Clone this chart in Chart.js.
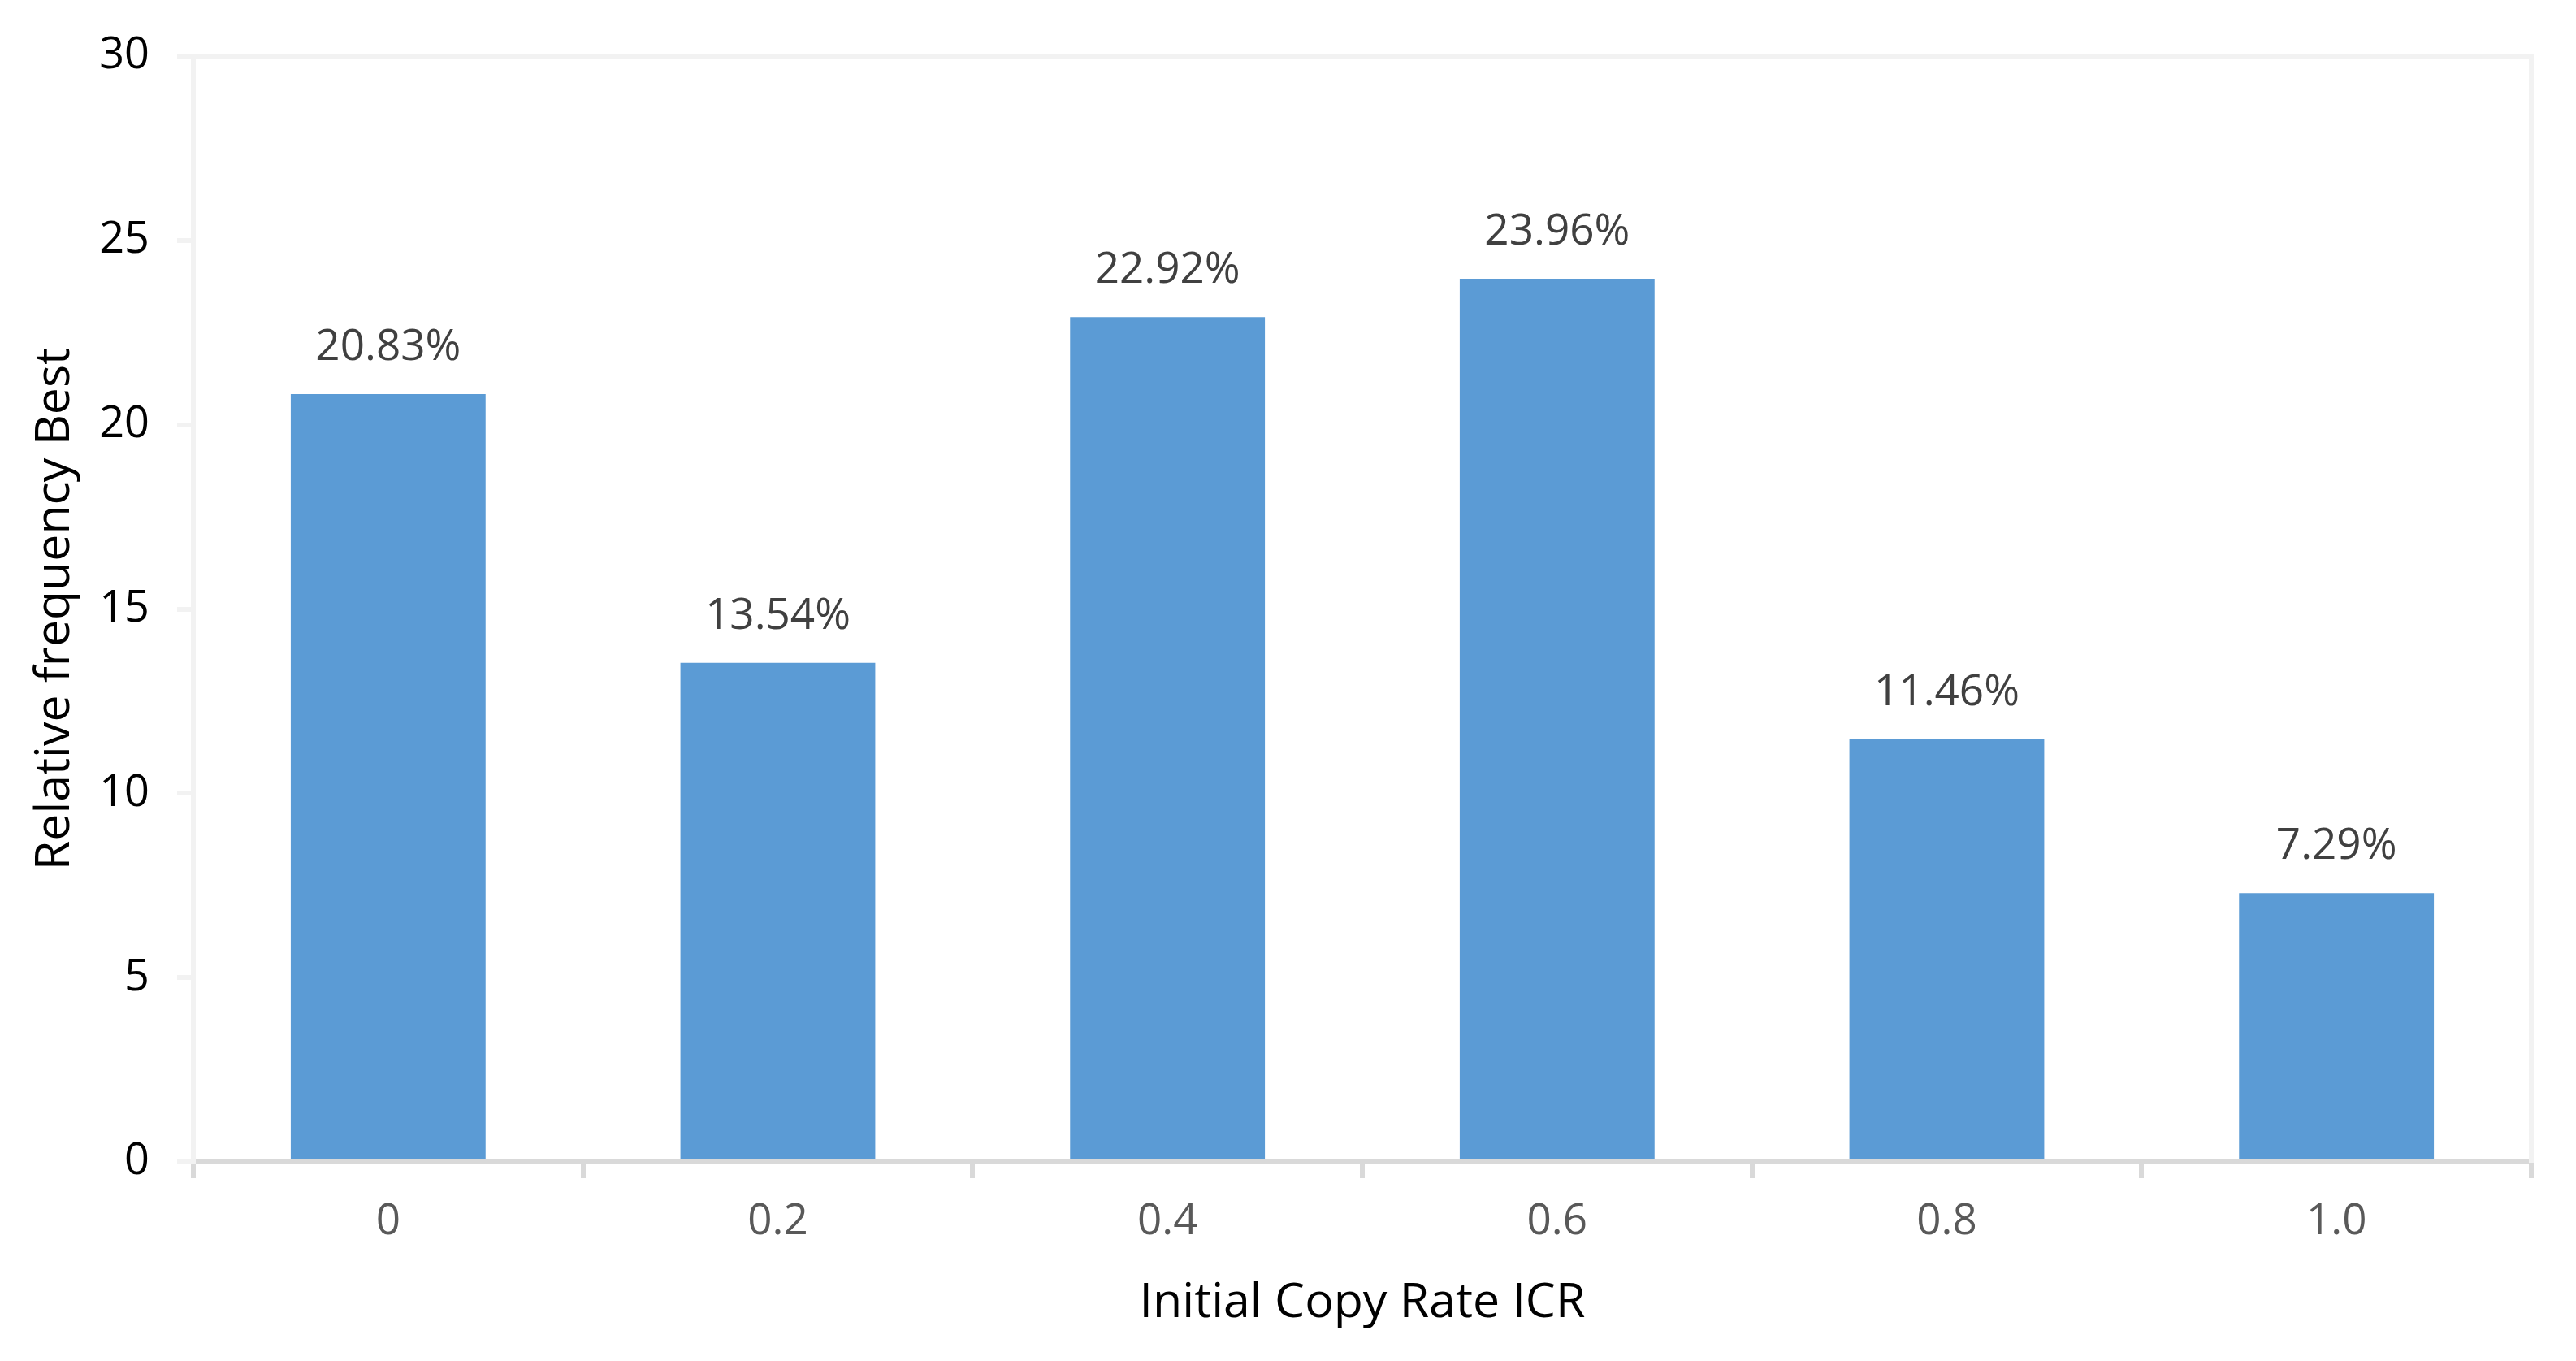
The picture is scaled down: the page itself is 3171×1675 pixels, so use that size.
<!DOCTYPE html>
<html>
<head>
<meta charset="utf-8">
<script src="https://cdn.jsdelivr.net/npm/chart.js@4/dist/chart.umd.min.js"></script>
<style>
  html, body { margin: 0; padding: 0; background: #ffffff; }
  canvas { display: block; }
</style>
</head>
<body>
<canvas id="c" width="3171" height="1675"></canvas>
<script>
// ---- data ----
const categories = ['0', '0.2', '0.4', '0.6', '0.8', '1.0'];
const values = [20.83, 13.54, 22.92, 23.96, 11.46, 7.29];
const valueLabels = ['20.83%', '13.54%', '22.92%', '23.96%', '11.46%', '7.29%'];
const yTicks = [0, 5, 10, 15, 20, 25, 30];
const xTitle = 'Initial Copy Rate ICR';
const yTitle = 'Relative frequency Best';

const FONT = "'Open Sans', 'Noto Sans', sans-serif";

const dataLabelPlugin = {
  id: 'dataLabels',
  afterDatasetsDraw(chart) {
    const ctx = chart.ctx;
    const meta = chart.getDatasetMeta(0);
    ctx.save();
    ctx.font = '53px ' + FONT;
    ctx.fillStyle = '#404040';
    ctx.textAlign = 'center';
    ctx.textBaseline = 'alphabetic';
    meta.data.forEach((bar, i) => {
      ctx.fillText(valueLabels[i], bar.x, bar.y - 42);
    });
    ctx.restore();
  }
};

new Chart(document.getElementById('c'), {
  type: 'bar',
  data: {
    labels: categories,
    datasets: [{
      data: values,
      backgroundColor: '#5b9bd5',
      borderWidth: 0,
      barPercentage: 0.5,
      categoryPercentage: 1.0
    }]
  },
  options: {
    responsive: false,
    animation: false,
    devicePixelRatio: 1,
    layout: { padding: { top: 69, right: 55, left: 0, bottom: 0 } },
    plugins: {
      legend: { display: false },
      tooltip: { enabled: false }
    },
    scales: {
      x: {
        z: 1,
        offset: true,
        grid: {
          offset: true,
          drawOnChartArea: false,
          drawTicks: true,
          tickLength: 20,
          tickColor: '#d9d9d9',
          lineWidth: 6,
          color: '#d9d9d9'
        },
        border: { display: true, color: '#d9d9d9', width: 6 },
        ticks: {
          color: '#595959',
          font: { family: FONT, size: 53 },
          padding: 22,
          maxRotation: 0
        },
        title: {
          display: true,
          text: xTitle,
          color: '#000000',
          font: { family: FONT, size: 59 },
          padding: { top: 0, bottom: 35 }
        },
        afterFit(scale) { scale.height = 245; }
      },
      y: {
        min: 0,
        max: 30,
        afterBuildTicks(scale) { scale.ticks = yTicks.map(v => ({ value: v })); },
        grid: {
          drawOnChartArea: true,
          drawTicks: true,
          tickLength: 20,
          lineWidth: 6,
          tickColor: '#f2f2f2',
          color: (c) => (c.tick && c.tick.value === 30) ? '#f2f2f2' : 'rgba(0,0,0,0)'
        },
        border: { display: true, color: '#f2f2f2', width: 6 },
        ticks: {
          color: '#000000',
          font: { family: FONT, size: 54 },
          padding: 34
        },
        title: {
          display: true,
          text: yTitle,
          color: '#000000',
          font: { family: FONT, size: 59 },
          padding: { top: 33, bottom: 0 }
        },
        afterFit(scale) { scale.width = 238; }
      },
      y2: {
        position: 'right',
        min: 0,
        max: 30,
        grid: { display: false, drawTicks: false },
        ticks: { display: false },
        border: { display: true, color: '#f2f2f2', width: 6 },
        afterFit(scale) { scale.width = 0; }
      }
    }
  },
  plugins: [dataLabelPlugin]
});
</script>
</body>
</html>
